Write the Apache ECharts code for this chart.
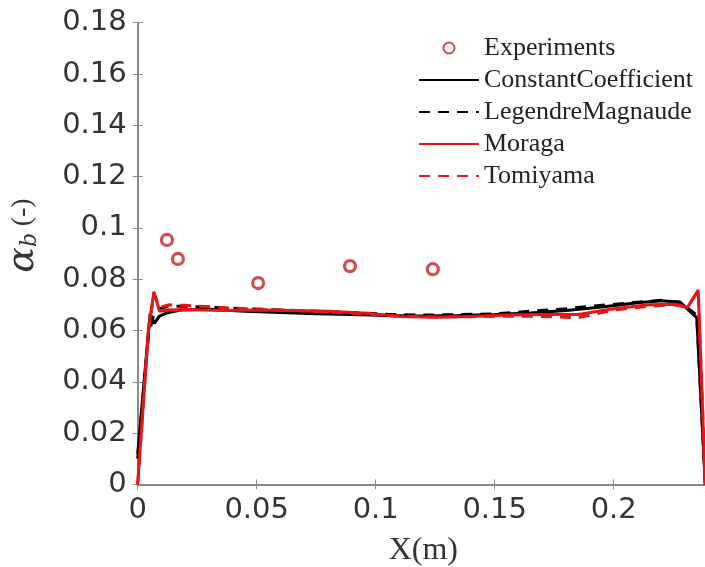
<!DOCTYPE html>
<html>
<head>
<meta charset="utf-8">
<script src="https://cdn.jsdelivr.net/npm/echarts@6/dist/echarts.min.js"></script>
<style>html,body{margin:0;padding:0;background:#fff;}#c{width:705px;height:567px;}</style>
</head>
<body>
<div id="c"></div>
<script>
// Experiments
const expX = [0.0123, 0.0169, 0.0506, 0.0892, 0.1240];
const expY = [0.0953, 0.0879, 0.0785, 0.0851, 0.0839];

// ConstantCoefficient (black solid)
const ccX = [0, 0.0052, 0.0070, 0.009, 0.012, 0.018, 0.03, 0.045, 0.06, 0.075, 0.09, 0.105, 0.12, 0.135, 0.15, 0.165, 0.18, 0.195, 0.21, 0.22, 0.228, 0.2349, 0.2385];
const ccY = [0.012, 0.0665, 0.0628, 0.0655, 0.0668, 0.0680, 0.0683, 0.0675, 0.0670, 0.0665, 0.0662, 0.0658, 0.0657, 0.0658, 0.0662, 0.0668, 0.0678, 0.0692, 0.0708, 0.0716, 0.0710, 0.0650, 0.0];

// LegendreMagnaude (black dashed)
const lmX = [0, 0.0045, 0.0068, 0.009, 0.012, 0.018, 0.03, 0.045, 0.06, 0.075, 0.09, 0.105, 0.12, 0.135, 0.15, 0.165, 0.18, 0.195, 0.21, 0.22, 0.228, 0.2349, 0.2385];
const lmY = [0.010, 0.058, 0.0665, 0.0685, 0.0692, 0.0695, 0.0690, 0.0685, 0.0680, 0.0675, 0.0670, 0.0663, 0.0660, 0.0662, 0.0665, 0.0675, 0.0685, 0.0698, 0.0710, 0.0718, 0.0710, 0.0660, 0.0];

// Moraga (red solid)
const moX = [0, 0.0045, 0.0068, 0.0092, 0.013, 0.02, 0.035, 0.05, 0.065, 0.08, 0.095, 0.11, 0.125, 0.14, 0.155, 0.17, 0.185, 0.2, 0.215, 0.225, 0.231, 0.2355, 0.2385];
const moY = [0.0, 0.060, 0.0751, 0.0675, 0.0680, 0.0682, 0.0678, 0.0680, 0.0678, 0.0675, 0.0668, 0.0655, 0.0652, 0.0655, 0.0660, 0.0662, 0.0662, 0.0685, 0.0700, 0.0702, 0.0690, 0.0758, 0.0];

// Tomiyama (red dashed)
const tmX = [0, 0.0045, 0.0068, 0.0092, 0.013, 0.02, 0.035, 0.05, 0.065, 0.08, 0.095, 0.11, 0.125, 0.14, 0.155, 0.17, 0.185, 0.2, 0.215, 0.225, 0.231, 0.2355, 0.2385];
const tmY = [0.0, 0.060, 0.0745, 0.0690, 0.0700, 0.0698, 0.0690, 0.0682, 0.0678, 0.0672, 0.0665, 0.0656, 0.0653, 0.0654, 0.0656, 0.0655, 0.0650, 0.0680, 0.0695, 0.0700, 0.0692, 0.0755, 0.0];

const seriesNames = ['Experiments', 'ConstantCoefficient', 'LegendreMagnaude', 'Moraga', 'Tomiyama'];

const zip = (xs, ys) => xs.map((x, i) => [x, ys[i]]);
const RED = '#e8141a';
const AX = '#8a8a8a';

const chart = echarts.init(document.getElementById('c'), null, {renderer: 'canvas'});
const lineBase = {type: 'line', symbol: 'none', showSymbol: false, smooth: false, z: 3};
chart.setOption({
  animation: false,
  backgroundColor: '#fff',
  grid: {left: 137.7, top: 22.7, width: 571.2, height: 461.7, containLabel: false, outerBoundsMode: 'none'},
  legend: {
    orient: 'vertical', left: 413, top: 30, itemWidth: 60, itemHeight: 11, itemGap: 6,
    textStyle: {fontFamily: 'Liberation Serif', fontSize: 26, color: '#222'},
    data: seriesNames.map((n, i) => i === 0 ? {name: n} : {name: n, itemStyle: {opacity: 0}})
  },
  xAxis: [{
    type: 'value', min: 0, max: 0.24, interval: 0.05, position: 'bottom',
    name: 'X(m)', nameLocation: 'middle', nameGap: 50,
    nameTextStyle: {fontFamily: 'Liberation Serif', fontSize: 32, color: '#333'},
    axisLine: {show: true, lineStyle: {color: AX, width: 2}},
    axisTick: {show: true, inside: true, length: 5, lineStyle: {color: AX, width: 1}},
    axisLabel: {fontFamily: 'DejaVu Sans', fontSize: 29, color: '#333', margin: 12, showMaxLabel: false},
    splitLine: {show: false}
  }, {
    type: 'value', min: 0, max: 0.24, interval: 0.05, position: 'top',
    axisLine: {show: true, lineStyle: {color: AX, width: 2}},
    axisTick: {show: true, inside: true, length: 5, lineStyle: {color: AX, width: 1}},
    axisLabel: {show: false}, splitLine: {show: false}
  }],
  yAxis: [{
    type: 'value', min: 0, max: 0.18, interval: 0.02, position: 'left',
    name: '{a|α}{s|b}  {p|(-)}', nameLocation: 'middle', nameRotate: 90, nameGap: 96,
    nameTextStyle: {
      padding: [0, 0, 0, 36],
      rich: {
        a: {fontFamily: 'DejaVu Serif', fontStyle: 'italic', fontSize: 38, color: '#333'},
        s: {fontFamily: 'DejaVu Serif', fontStyle: 'italic', fontSize: 22, color: '#333', padding: [16, 0, 0, 0]},
        p: {fontFamily: 'Liberation Serif', fontSize: 28, color: '#333'}
      }
    },
    axisLine: {show: true, lineStyle: {color: AX, width: 2}},
    axisTick: {show: true, inside: true, length: 5, lineStyle: {color: AX, width: 1}},
    axisLabel: {fontFamily: 'DejaVu Sans', fontSize: 29, color: '#333', margin: 11,
      formatter: v => (v === 0 ? '0' : String(+v.toFixed(2)))},
    splitLine: {show: false}
  }, {
    type: 'value', min: 0, max: 0.18, interval: 0.02, position: 'right',
    axisLine: {show: true, lineStyle: {color: AX, width: 2}},
    axisTick: {show: true, inside: true, length: 5, lineStyle: {color: AX, width: 1}},
    axisLabel: {show: false}, splitLine: {show: false}
  }],
  series: [
    {name: 'Experiments', type: 'scatter', symbol: 'circle', symbolSize: 11, z: 5,
      itemStyle: {color: '#fff', borderColor: '#c81e22', borderWidth: 3.2},
      data: zip(expX, expY)},
    Object.assign({}, lineBase, {name: 'ConstantCoefficient', lineStyle: {color: '#000', width: 3, type: 'solid'}, itemStyle: {color: '#000'}, data: zip(ccX, ccY)}),
    Object.assign({}, lineBase, {name: 'LegendreMagnaude', lineStyle: {color: '#000', width: 3, type: [11, 8]}, itemStyle: {color: '#000'}, data: zip(lmX, lmY)}),
    Object.assign({}, lineBase, {name: 'Moraga', lineStyle: {color: RED, width: 3, type: 'solid'}, itemStyle: {color: RED}, data: zip(moX, moY)}),
    Object.assign({}, lineBase, {name: 'Tomiyama', lineStyle: {color: RED, width: 3, type: [11, 8]}, itemStyle: {color: RED}, data: zip(tmX, tmY)})
  ]
});
</script>
</body>
</html>
